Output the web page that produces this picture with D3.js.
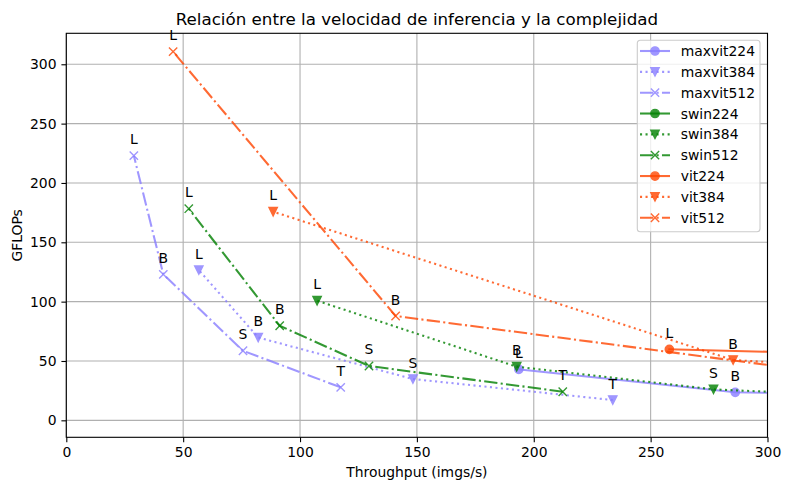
<!DOCTYPE html>
<html>
<head>
<meta charset="utf-8">
<script src="https://cdn.jsdelivr.net/npm/d3@7"></script>
<style>
  body { margin: 0; background: #fff; }
  text { font-family: "DejaVu Sans", sans-serif; fill: #000; }
</style>
</head>
<body>
<div id="chart"></div>
<script>
// series / data
var seriesNames = ["maxvit224", "maxvit384", "maxvit512", "swin224", "swin384", "swin512", "vit224", "vit384", "vit512"];
var sizeLabels = ["T", "S", "B", "L"];
// throughput (imgs/s) for T, S, B, L  -- points past 300 are off the chart
var maxvit224_x = [1100, 730, 286.2, 193.6];
var maxvit224_y = [5.6, 11.7, 23.6, 43.0];
var maxvit384_x = [233.8, 148.3, 82.1, 56.7];
var maxvit384_y = [17.1, 34.8, 69.8, 126.6];
var maxvit512_x = [117.4, 75.6, 41.5, 28.9];
var maxvit512_y = [27.8, 58.6, 123.0, 223.0];
var swin224_x = [1000, 700, 480, 330];
var swin224_y = [4.5, 8.7, 15.4, 34.5];
var swin384_x = [370, 276.9, 192.7, 107.3];
var swin384_y = [18.0, 26.1, 45.2, 100.8];
var swin512_x = [212.4, 129.5, 91.3, 52.4];
var swin512_y = [24.1, 45.8, 79.7, 178.3];
var vit224_x = [4000, 2000, 1134, 258.0];
var vit224_y = [1.3, 4.6, 17.6, 59.8];
var vit384_x = [900, 420, 285.3, 88.5];
var vit384_y = [8.0, 35.2, 50.8, 175.8];
var vit512_x = [600, 320, 140.9, 45.7];
var vit512_y = [10.0, 41.5, 87.9, 310.6];

var xTicks = [0, 50, 100, 150, 200, 250, 300];
var yTicks = [0, 50, 100, 150, 200, 250, 300];

var seriesX = [maxvit224_x, maxvit384_x, maxvit512_x, swin224_x, swin384_x, swin512_x, vit224_x, vit384_x, vit512_x];
var seriesY = [maxvit224_y, maxvit384_y, maxvit512_y, swin224_y, swin384_y, swin512_y, vit224_y, vit384_y, vit512_y];

var familyColor = {maxvit: "#887dff", swin: "green", vit: "orangered"};
var resStyle = {
  "224": {dash: null, marker: "circle"},
  "384": {dash: "2.08,3.44", marker: "tri"},
  "512": {dash: "13.3,3.3,2.08,3.3", marker: "x"}
};

var W = 789, H = 490;
var margin = {top: 33.3, right: 21.5, bottom: 52.7, left: 66.3};
var iw = W - margin.left - margin.right, ih = H - margin.top - margin.bottom;

var svg = d3.select("#chart").append("svg")
  .attr("width", W).attr("height", H);

var x = d3.scaleLinear().domain([0, 300]).range([0, iw]);
var y = d3.scaleLinear().domain([-14.3, 326.1]).range([ih, 0]);

var g = svg.append("g").attr("transform", "translate(" + margin.left + "," + margin.top + ")");

svg.append("defs").append("clipPath").attr("id", "clip")
  .append("rect").attr("width", iw).attr("height", ih);

// grid
g.append("g").selectAll("line").data(xTicks).enter().append("line")
  .attr("x1", function(d){ return x(d); }).attr("x2", function(d){ return x(d); })
  .attr("y1", 0).attr("y2", ih)
  .style("stroke", "#b0b0b0").style("stroke-width", 1.1);
g.append("g").selectAll("line").data(yTicks).enter().append("line")
  .attr("y1", function(d){ return y(d); }).attr("y2", function(d){ return y(d); })
  .attr("x1", 0).attr("x2", iw)
  .style("stroke", "#b0b0b0").style("stroke-width", 1.1);

function markerPath(type, s){
  var h = s / 2;
  if (type === "tri") return "M" + (-h) + "," + (-h) + "L" + h + "," + (-h) + "L0," + h + "Z";
  if (type === "x") return "M" + (-h) + "," + (-h) + "L" + h + "," + h + "M" + (-h) + "," + h + "L" + h + "," + (-h);
  return null;
}

function drawMarker(sel, type, color, cx, cy){
  if (type === "circle") {
    sel.append("circle").attr("cx", cx).attr("cy", cy).attr("r", 4.15)
      .style("fill", color).style("stroke", color).style("stroke-width", 1.39).style("opacity", 0.8);
  } else if (type === "tri") {
    sel.append("path").attr("d", markerPath("tri", 8.33)).attr("transform", "translate(" + cx + "," + cy + ")")
      .style("fill", color).style("stroke", color).style("stroke-width", 1.39)
      .style("stroke-linejoin", "miter").style("opacity", 0.8);
  } else {
    sel.append("path").attr("d", markerPath("x", 8.33)).attr("transform", "translate(" + cx + "," + cy + ")")
      .style("fill", "none").style("stroke", color).style("stroke-width", 1.39).style("opacity", 0.8);
  }
}

var plot = g.append("g").attr("clip-path", "url(#clip)");
var line = d3.line().x(function(d){ return x(d[0]); }).y(function(d){ return y(d[1]); });

seriesNames.forEach(function(name, i){
  var fam = name.replace(/\d+$/, ""), res = name.match(/\d+$/)[0];
  var color = familyColor[fam], st = resStyle[res];
  var pts = seriesX[i].map(function(v, k){ return [v, seriesY[i][k]]; });
  var sg = plot.append("g").attr("class", name);
  sg.append("path").attr("d", line(pts))
    .style("fill", "none").style("stroke", color).style("stroke-width", 2.08)
    .style("stroke-dasharray", st.dash).style("stroke-linejoin", "round")
    .style("stroke-linecap", st.dash ? "butt" : "square").style("opacity", 0.8);
  pts.forEach(function(p){ drawMarker(sg, st.marker, color, x(p[0]), y(p[1])); });
});

// point labels (only those inside the axes)
var lab = g.append("g");
seriesNames.forEach(function(name, i){
  seriesX[i].forEach(function(v, k){
    var vy = seriesY[i][k];
    if (v < 0 || v > 300 || vy < -14.3 || vy > 326.1) return;
    lab.append("text").attr("x", x(v)).attr("y", y(vy) - 11.5)
      .attr("text-anchor", "middle").style("font-size", "13.9px").text(sizeLabels[k]);
  });
});

// axes
var xAxis = g.append("g").attr("transform", "translate(0," + ih + ")")
  .call(d3.axisBottom(x).tickValues(xTicks).tickSize(4.9).tickPadding(4.9).tickFormat(d3.format("d")));
var yAxis = g.append("g")
  .call(d3.axisLeft(y).tickValues(yTicks).tickSize(4.9).tickPadding(4.9).tickFormat(d3.format("d")));
[xAxis, yAxis].forEach(function(a){
  a.select(".domain").remove();
  a.selectAll("line").style("stroke", "#000").style("stroke-width", 1.1);
  a.selectAll("text").style("font-size", "13.9px").style("font-family", "DejaVu Sans, sans-serif");
});
g.append("rect").attr("width", iw).attr("height", ih)
  .style("fill", "none").style("stroke", "#000").style("stroke-width", 1.1);

svg.append("text").attr("x", margin.left + iw / 2).attr("y", 25)
  .attr("text-anchor", "middle").style("font-size", "16.7px")
  .text("Relación entre la velocidad de inferencia y la complejidad");
svg.append("text").attr("x", margin.left + iw / 2).attr("y", 477)
  .attr("text-anchor", "middle").style("font-size", "13.9px").text("Throughput (imgs/s)");
svg.append("text").attr("transform", "translate(21.5," + (margin.top + ih / 2) + ") rotate(-90)")
  .attr("text-anchor", "middle").style("font-size", "13.9px").text("GFLOPs");

// legend
var leg = svg.append("g").attr("transform", "translate(637.3,40.3)");
leg.append("rect").attr("width", 122.7).attr("height", 191.4).attr("rx", 3)
  .style("fill", "#fff").style("fill-opacity", 0.8).style("stroke", "#cccccc").style("stroke-width", 1.1);
seriesNames.forEach(function(name, i){
  var fam = name.replace(/\d+$/, ""), res = name.match(/\d+$/)[0];
  var color = familyColor[fam], st = resStyle[res];
  var ly = 10.7 + i * 20.84;
  var row = leg.append("g");
  row.append("line").attr("x1", 2.7).attr("x2", 32.7).attr("y1", ly).attr("y2", ly)
    .style("stroke", color).style("stroke-width", 2.08).style("stroke-dasharray", st.dash).style("opacity", 0.8);
  drawMarker(row, st.marker, color, 17.7, ly);
  row.append("text").attr("x", 43.4).attr("y", ly + 5).style("font-size", "13.9px").text(name);
});
</script>
</body>
</html>
